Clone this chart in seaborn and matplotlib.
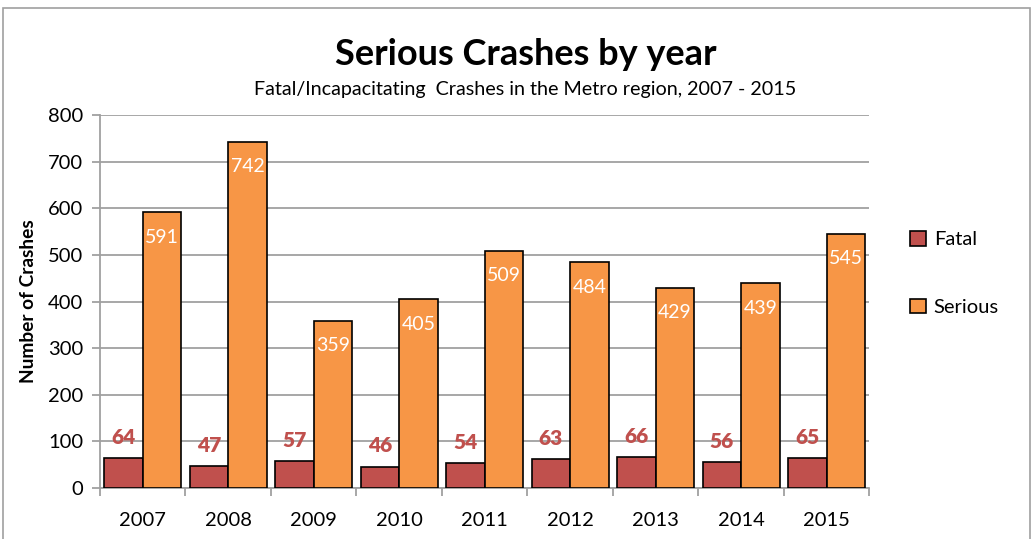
import pandas as pd
import numpy as np
import matplotlib.pyplot as plt
import seaborn as sns
from matplotlib.patches import Rectangle

# Chart data
years = ['2007', '2008', '2009', '2010', '2011', '2012', '2013', '2014', '2015']
fatal = [64, 47, 57, 46, 54, 63, 66, 56, 65]
serious = [591, 742, 359, 405, 509, 484, 429, 439, 545]

df = pd.DataFrame({
    'year': years * 2,
    'crashes': fatal + serious,
    'type': ['Fatal'] * len(years) + ['Serious'] * len(years),
})

sns.set_theme(style='white')
plt.rcParams['font.family'] = ['Lato', 'DejaVu Sans']
plt.rcParams['text.color'] = 'black'
plt.rcParams['axes.labelcolor'] = 'black'

fig = plt.figure(figsize=(10.34, 5.39), dpi=100)
ax = fig.add_axes([0.0967, 0.0946, 0.744, 0.692])

colors = {'Fatal': '#C0504D', 'Serious': '#F79646'}
sns.barplot(data=df, x='year', y='crashes', hue='type', palette=colors,
            width=0.9, edgecolor='black', linewidth=1.2, saturation=1,
            ax=ax, zorder=3)

ax.set_ylim(0, 800)
ax.set_xlim(-0.5, len(years) - 0.5)
ax.set_yticks(np.arange(0, 801, 100))
ax.yaxis.grid(True, color='#A0A0A0', linewidth=1.3, zorder=0)
ax.set_axisbelow(True)

for side in ['top', 'right']:
    ax.spines[side].set_visible(False)
for side in ['left', 'bottom']:
    ax.spines[side].set_color('#A0A0A0')
    ax.spines[side].set_linewidth(1.3)

ax.tick_params(axis='y', which='major', length=6, color='#A0A0A0', width=1.3,
               labelsize=14.5, pad=6, left=True, labelcolor='black')
ax.tick_params(axis='x', which='major', length=0, labelsize=14.5, pad=17,
               labelcolor='black')
ax.set_xticks(np.arange(-0.5, len(years)), minor=True)
ax.tick_params(axis='x', which='minor', length=6, color='#A0A0A0', width=1.3,
               bottom=True)

ax.set_xlabel('')
ax.set_ylabel('Number of Crashes', fontsize=13.8, fontweight='bold', labelpad=8)

# value labels
ax.bar_label(ax.containers[0], padding=8, color='#C0504D',
             fontsize=15, fontweight='heavy')
ax.bar_label(ax.containers[1], padding=-24, color='white', fontsize=14)

leg = ax.legend(loc='center left', bbox_to_anchor=(1.03, 0.575), frameon=False,
                fontsize=14.5, labelspacing=2.5, handlelength=0.75,
                handleheight=0.75, handletextpad=0.4)

fig.text(0.508, 0.898, 'Serious Crashes by year', ha='center', va='center',
         fontsize=26, fontweight='bold')
fig.text(0.508, 0.834, 'Fatal/Incapacitating  Crashes in the Metro region, 2007 - 2015',
         ha='center', va='center', fontsize=14.2)

fig.patches.append(Rectangle((0.003, -0.02), 0.993, 1.005,
                             transform=fig.transFigure, fill=False,
                             edgecolor='#A0A0A0', linewidth=1.2))

plt.savefig('out.png', dpi=100)
